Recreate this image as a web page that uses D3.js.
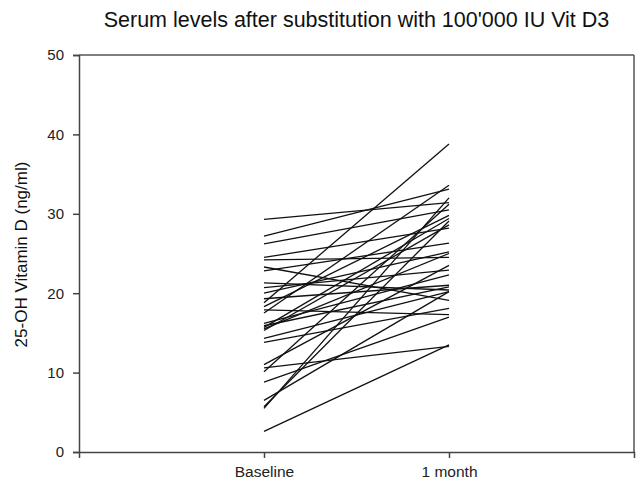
<!DOCTYPE html>
<html><head><meta charset="utf-8">
<script src="https://cdn.jsdelivr.net/npm/d3@7"></script>
<style>body{margin:0;background:#fff}svg{display:block}text{font-family:"Liberation Sans",Arial,sans-serif}</style>
</head><body>
<svg id="c" width="639" height="480"></svg>
<script>
const categories = ["Baseline", "1 month"];
const baseline = [29.3, 27.2, 26.2, 24.5, 24.2, 23.3, 22.8, 21.3, 20.7, 20.0, 19.3, 18.8, 18.3, 17.9, 17.5, 16.2, 15.9, 15.7, 15.5, 15.3, 14.3, 13.8, 11.0, 10.6, 10.1, 8.8, 6.5, 5.7, 5.5, 2.6];
const month1   = [31.4, 33.1, 30.5, 28.2, 24.5, 19.1, 26.3, 20.4, 22.9, 25.2, 21.0, 38.8, 29.8, 17.3, 33.6, 22.3, 20.8, 29.4, 25.0, 28.6, 20.2, 18.1, 23.5, 13.3, 31.2, 17.0, 20.2, 29.1, 32.0, 13.5];
const yTicks = [0, 10, 20, 30, 40, 50];
const title = "Serum levels after substitution with 100'000 IU Vit D3";
const yLabel = "25-OH Vitamin D (ng/ml)";

const svg = d3.select("#c");
const L = 79, R = 634, T = 55, B = 452;
const x = d3.scalePoint().domain(categories).range([L, R]).padding(1);
const y = d3.scaleLinear().domain([0, 50]).range([B, T]);

// frame
svg.append("line").attr("x1", L).attr("x2", R).attr("y1", T).attr("y2", T).attr("stroke", "#555").attr("stroke-width", 1.5);
svg.append("line").attr("x1", R).attr("x2", R).attr("y1", T).attr("y2", B).attr("stroke", "#555").attr("stroke-width", 1.5);

const yAxis = svg.append("g").attr("transform", `translate(${L},0)`)
  .call(d3.axisLeft(y).tickValues(yTicks).tickSize(6).tickPadding(9));
const xAxis = svg.append("g").attr("transform", `translate(0,${B})`)
  .call(d3.axisBottom(x).tickSize(6).tickPadding(8));
[yAxis, xAxis].forEach(g => {
  g.select(".domain").attr("stroke", "#444").attr("stroke-width", 1.5);
  g.selectAll(".tick line").attr("stroke", "#444").attr("stroke-width", 1.5);
  g.selectAll("text").attr("fill", "#222").style("font-size", "15px").style("font-family", "Liberation Sans, Arial, sans-serif");
});
xAxis.selectAll("text").style("font-size", "15.5px");

const pairs = baseline.map((b, i) => [b, month1[i]]);
const line = d3.line().x((d, i) => x(categories[i])).y(d => y(d));
svg.append("g").selectAll("path").data(pairs).join("path")
  .attr("d", line).attr("fill", "none").attr("stroke", "#111").attr("stroke-width", 1.3);

svg.append("text").attr("x", (L + R) / 2).attr("y", 27).attr("text-anchor", "middle")
  .style("font-size", "21.5px").attr("fill", "#111").text(title);
svg.append("text").attr("transform", `translate(27,${(T + B) / 2 + 1}) rotate(-90)`)
  .attr("text-anchor", "middle").style("font-size", "17px").attr("fill", "#111").text(yLabel);
</script>
</body></html>
